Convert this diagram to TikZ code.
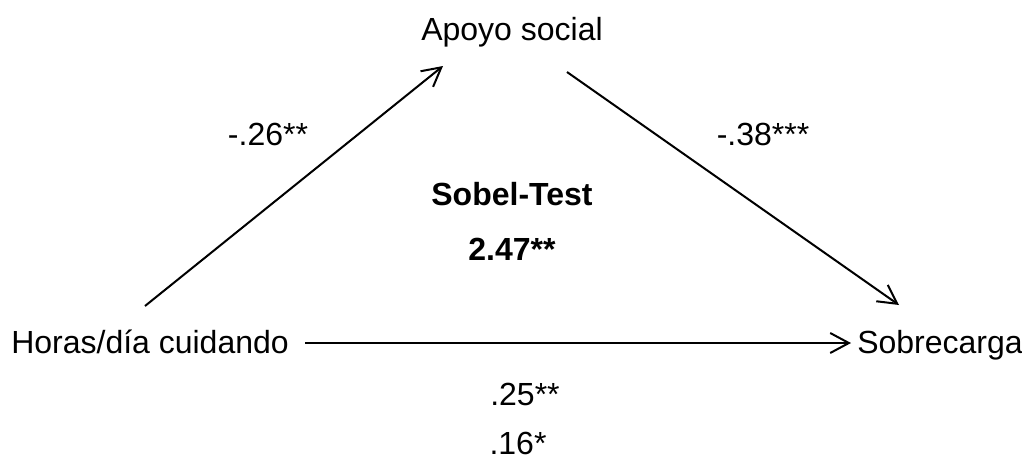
\documentclass[tikz,border=0pt]{standalone}
\usepackage{fontspec}
\setmainfont{Liberation Sans}
\usetikzlibrary{arrows.meta}
\begin{document}
\begin{tikzpicture}[x=0.75pt,y=-0.75pt,
  lbl/.style={anchor=base,inner sep=0pt,font=\fontsize{24pt}{28pt}\selectfont},
  blbl/.style={lbl,font=\fontsize{24pt}{28pt}\selectfont\bfseries},
  path/.style={line width=1.5pt,-{Straight Barb[length=14pt,width=15pt,line width=1.5pt]}}]
\useasboundingbox (0,0) rectangle (1022,462);
\node[lbl] (a) at (512,40) {Apoyo social};
\node[lbl,anchor=base west] (h) at (11,353) {Horas/día cuidando};
\node[lbl,anchor=base west] (s) at (857,353) {Sobrecarga};
\node[blbl] (sobel) at (512,205) {Sobel-Test};
\node[blbl] (z) at (512,260) {2.47**};
\node[lbl] (c1) at (525,405) {.25**};
\node[lbl] (c2) at (518,454) {.16*};
\node[lbl] (ah) at (268,145) {-.26**};
\node[lbl] (bs) at (763,145) {-.38***};
\coordinate (h1) at (145,306);
\coordinate (a1) at (443,66);
\coordinate (a2) at (567,72);
\coordinate (s1) at (899,305);
\coordinate (h2) at (305,343);
\coordinate (s2) at (851,343);
\draw[path] (h1) -- (a1);
\draw[path] (a2) -- (s1);
\draw[path] (h2) -- (s2);
\end{tikzpicture}
\end{document}
